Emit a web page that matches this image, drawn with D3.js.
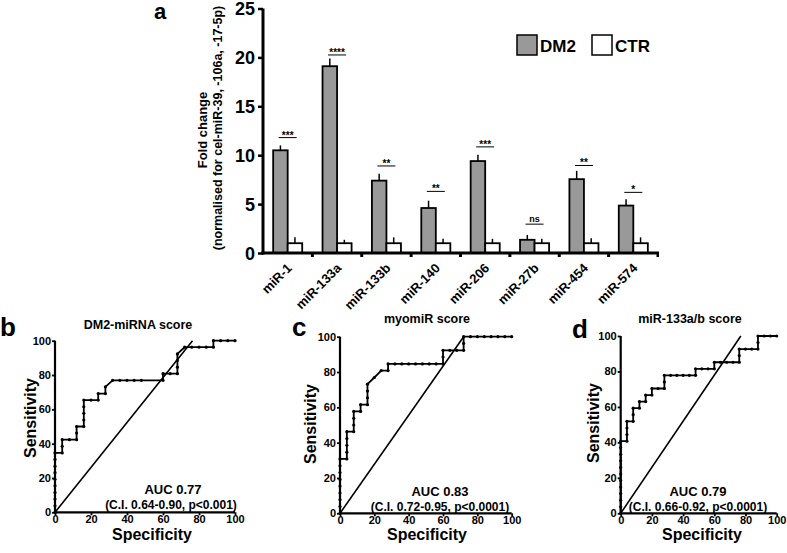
<!DOCTYPE html>
<html><head><meta charset="utf-8">
<script src="https://cdn.jsdelivr.net/npm/d3@7"></script>
<style>
html,body{margin:0;padding:0;background:#fff;}
svg text{font-family:"Liberation Sans",Arial,sans-serif;font-weight:bold;fill:#000;}
</style></head>
<body><svg id="c" width="787" height="553"></svg>
<script>
// ---------- Panel a data ----------
const categories = ["miR-1","miR-133a","miR-133b","miR-140","miR-206","miR-27b","miR-454","miR-574"];
const seriesNames = ["DM2","CTR"];
const dm2Values = [10.5,19.1,7.4,4.6,9.4,1.35,7.55,4.85];
const dm2Errors = [0.5,0.8,0.7,0.75,0.65,0.5,0.85,0.65];
const ctrValues = [1,1,1,1,1,1,1,1];
const ctrErrors = [0.6,0.35,0.6,0.45,0.45,0.45,0.5,0.6];
const sigLabels = ["***","****","**","**","***","ns","**","*"];
const sigLevels = [11.8,20.25,8.9,6.3,10.85,2.95,8.95,6.2];
const yTicksA = [0,5,10,15,20,25];

// ---------- ROC data: [specificity axis, sensitivity] ----------
const rocTicks = [0,20,40,60,80,100];
const rocTitles = ["DM2-miRNA score","myomiR score","miR-133a/b score"];
const rocLetters = ["b","c","d"];
const rocAUC = ["AUC 0.77","AUC 0.83","AUC 0.79"];
const rocCI = ["(C.I. 0.64-0.90, p<0.001)","(C.I. 0.72-0.95, p<0.0001)","(C.I. 0.66-0.92, p<0.0001)"];
const rocRefEnd = [[76.4,100],[72,100],[77,100]];
const rocB = [[0,0],[0,3.8],[0,7.7],[0,11.5],[0,15.4],[0,19.2],[0,23.1],[0,26.9],[0,30.8],[0,34.6],
 [4,34.6],[4,38.5],[4,42.3],[8,42.3],[12,42.3],[12,46.2],[12,50],[16,50],[16,53.8],[16,57.7],[16,61.5],[16,65.4],
 [20,65.4],[24,65.4],[24,69.2],[28,69.2],[28,73.1],[32,76.9],[36,76.9],[40,76.9],[44,76.9],[48,76.9],[60,76.9],
 [60,80.8],[64,80.8],[68,80.8],[68,84.6],[68,88.5],[68,92.3],[72,96.2],[76,96.2],[80,96.2],[84,96.2],[88,96.2],
 [88,100],[92,100],[96,100],[100,100]];
const rocC = [[0,0],[0,3.8],[0,7.7],[0,11.5],[0,15.4],[0,19.2],[0,23.1],[0,26.9],[0,30.8],[4,30.8],[4,34.6],[4,38.5],
 [4,42.3],[4,46.2],[8,46.2],[8,50],[8,53.8],[8,57.7],[12,57.7],[12,61.5],[16,61.5],[16,65.4],[16,69.2],[16,73.1],
 [20,76.9],[24,80.8],[28,80.8],[28,84.6],[32,84.6],[36,84.6],[40,84.6],[44,84.6],[48,84.6],[52,84.6],[56,84.6],
 [60,84.6],[60,88.5],[60,92.3],[64,92.3],[68,92.3],[72,92.3],[72,96.2],[72,100],[76,100],[80,100],[84,100],
 [88,100],[92,100],[96,100],[100,100]];
const rocD = [[0,0],[0,3.7],[0,7.4],[0,11.1],[0,14.8],[0,18.5],[0,22.2],[0,25.9],[0,29.6],[0,33.3],[0,37],[0,40.7],
 [4,40.7],[4,44.4],[4,48.1],[4,51.9],[8,51.9],[8,55.6],[8,59.3],[12,59.3],[12,63],[16,63],[16,66.7],[20,66.7],
 [20,70.4],[24,70.4],[28,70.4],[28,74.1],[28,77.8],[32,77.8],[36,77.8],[40,77.8],[44,77.8],[48,77.8],[48,81.5],
 [52,81.5],[56,81.5],[60,81.5],[60,85.2],[64,85.2],[68,85.2],[72,85.2],[76,85.2],[76,88.9],[76,92.6],[80,92.6],
 [84,92.6],[88,92.6],[88,96.3],[88,100],[92,100],[96,100],[100,100]];
const rocData = [rocB, rocC, rocD];

const svg = d3.select("#c");

// ================= Panel a =================
(function(){
  const g = svg.append("g");
  const x0 = d3.scaleBand().domain(categories).range([263, 658]).paddingInner(0).paddingOuter(0);
  const x1 = d3.scaleBand().domain(seriesNames).range([0, x0.bandwidth()]).paddingInner(0).paddingOuter(0.7);
  const y = d3.scaleLinear().domain([0,25]).range([253, 8.5]);
  const fills = {DM2:"#999999", CTR:"#ffffff"};
  const rows = categories.map((c,i)=>({c, vals:[
    {s:"DM2", v:dm2Values[i], e:dm2Errors[i]},
    {s:"CTR", v:ctrValues[i], e:ctrErrors[i]}], sig:sigLabels[i], sl:sigLevels[i]}));

  const grp = g.selectAll("g.grp").data(rows).join("g").attr("transform", d=>`translate(${x0(d.c)},0)`);
  grp.selectAll("line.err").data(d=>d.vals).join("line")
    .attr("x1", d=>x1(d.s)+x1.bandwidth()/2).attr("x2", d=>x1(d.s)+x1.bandwidth()/2)
    .attr("y1", d=>y(d.v)).attr("y2", d=>y(d.v+d.e))
    .attr("stroke","#000").attr("stroke-width",1.5);
  grp.selectAll("rect").data(d=>d.vals).join("rect")
    .attr("x", d=>x1(d.s)).attr("width", x1.bandwidth())
    .attr("y", d=>y(d.v)).attr("height", d=>y(0)-y(d.v))
    .attr("fill", d=>fills[d.s]).attr("stroke","#000").attr("stroke-width",1.8);
  grp.append("line")
    .attr("x1", x0.bandwidth()/2-9).attr("x2", x0.bandwidth()/2+9)
    .attr("y1", d=>y(d.sl)).attr("y2", d=>y(d.sl))
    .attr("stroke","#000").attr("stroke-width",1);
  grp.append("text")
    .attr("x", x0.bandwidth()/2).attr("y", d=>y(d.sl)-(d.sig==="ns"?2:-1))
    .attr("text-anchor","middle").style("font-size", d=>d.sig==="ns"?"9px":"10px")
    .text(d=>d.sig);

  const ya = g.append("g").attr("transform","translate(263,0)")
    .call(d3.axisLeft(y).tickValues(yTicksA).tickSize(5).tickPadding(3));
  ya.select(".domain").attr("stroke-width",3).attr("d", `M0,${y(25)}V${y(0)+1.5}`);
  ya.selectAll(".tick line").attr("stroke-width",2.5);
  ya.selectAll(".tick text").style("font-size","18px").style("font-family","Liberation Sans, Arial, sans-serif").style("font-weight","bold").attr("dy","0.36em");

  const xa = g.append("g").attr("transform",`translate(0,${y(0)})`);
  xa.append("line").attr("x1",261.5).attr("x2",659).attr("y1",0).attr("y2",0).attr("stroke","#000").attr("stroke-width",3);
  xa.selectAll("rect.tk").data(categories.slice(1)).join("rect")
    .attr("x", d=>x0(d)-1.5).attr("y",1).attr("width",3).attr("height",3).attr("fill","#000");
  xa.append("rect").attr("x",656.5).attr("y",1).attr("width",2.5).attr("height",3).attr("fill","#000");
  xa.selectAll("text").data(categories).join("text")
    .attr("transform", d=>`translate(${x0(d)+x0.bandwidth()/2+5},${16}) rotate(-45)`)
    .attr("text-anchor","end").style("font-size","13px").text(d=>d);

  g.append("text").attr("transform","translate(207,130) rotate(-90)").attr("text-anchor","middle")
    .style("font-size","13px").text("Fold change");
  g.append("text").attr("transform","translate(222,128) rotate(-90)").attr("text-anchor","middle")
    .style("font-size","12.5px").text("(normalised for cel-miR-39, -106a, -17-5p)");

  g.append("text").attr("x",154).attr("y",19).style("font-size","22px").text("a");

  const lg = g.append("g");
  const lx = [517, 592];
  seriesNames.forEach((s,i)=>{
    lg.append("rect").attr("x",lx[i]).attr("y",35).attr("width",20).attr("height",20)
      .attr("fill",fills[s]).attr("stroke","#000").attr("stroke-width",1.5);
    lg.append("text").attr("x",lx[i]+23).attr("y",52).style("font-size","17px").text(s);
  });
})();

// ================= ROC panels =================
const rocGeom = [
  {x0:55, x1:235, y0:512.3, y1:340.7, letterX:0, letterY:336, titleX:138, titleY:329, sensX:36, sensY:418, specX:152, specY:540, aucX:173, aucY:494, ciX:171, ciY:509},
  {x0:340, x1:511.7, y0:513.3, y1:336.7, letterX:292, letterY:336, titleX:427, titleY:323, sensX:316, sensY:424, specX:427, specY:540, aucX:440, aucY:496, ciX:440, ciY:511},
  {x0:620.7, x1:776.7, y0:513.3, y1:336, letterX:572, letterY:338, titleX:690, titleY:323, sensX:599, sensY:423, specX:702, specY:540, aucX:698, aucY:496, ciX:698, ciY:511}
];

rocData.forEach((pts, k)=>{
  const G = rocGeom[k];
  const g = svg.append("g");
  const x = d3.scaleLinear().domain([0,100]).range([G.x0, G.x1]);
  const y = d3.scaleLinear().domain([0,100]).range([G.y0, G.y1]);

  g.append("line").attr("x1",x(0)).attr("y1",y(0)).attr("x2",x(rocRefEnd[k][0])).attr("y2",y(rocRefEnd[k][1]))
    .attr("stroke","#000").attr("stroke-width",1.6);
  g.append("path").datum(pts).attr("fill","none").attr("stroke","#000").attr("stroke-width",1.8)
    .attr("d", d3.line().x(d=>x(d[0])).y(d=>y(d[1])));
  g.selectAll("circle").data(pts).join("circle")
    .attr("cx", d=>x(d[0])).attr("cy", d=>y(d[1])).attr("r",1.6).attr("fill","#000");

  const ya = g.append("g").attr("transform",`translate(${G.x0},0)`)
    .call(d3.axisLeft(y).tickValues(rocTicks).tickSize(3).tickPadding(1));
  ya.select(".domain").attr("stroke-width",2.2).attr("d",`M0,${y(100)}V${y(0)}`);
  const xa = g.append("g").attr("transform",`translate(0,${G.y0})`)
    .call(d3.axisBottom(x).tickValues(rocTicks).tickSize(3).tickPadding(0));
  xa.select(".domain").attr("stroke-width",2.2).attr("d",`M${x(0)},0H${x(100)}`);
  [ya, xa].forEach(a=>{
    a.selectAll(".tick line").attr("stroke-width",1.8);
    a.selectAll(".tick text").style("font-size","11px").style("font-family","Liberation Sans, Arial, sans-serif").style("font-weight","bold");
  });

  g.append("text").attr("x",G.letterX).attr("y",G.letterY).style("font-size","26px").text(rocLetters[k]);
  g.append("text").attr("x",G.titleX).attr("y",G.titleY).attr("text-anchor","middle").style("font-size","12.5px").text(rocTitles[k]);
  g.append("text").attr("transform",`translate(${G.sensX},${G.sensY}) rotate(-90)`).attr("text-anchor","middle")
    .style("font-size","16px").text("Sensitivity");
  g.append("text").attr("x",G.specX).attr("y",G.specY).attr("text-anchor","middle").style("font-size","16px").text("Specificity");
  g.append("text").attr("x",G.aucX).attr("y",G.aucY).attr("text-anchor","middle").style("font-size","13px").text(rocAUC[k]);
  g.append("text").attr("x",G.ciX).attr("y",G.ciY).attr("text-anchor","middle").style("font-size","12px").text(rocCI[k]);
});
</script>
</body></html>
